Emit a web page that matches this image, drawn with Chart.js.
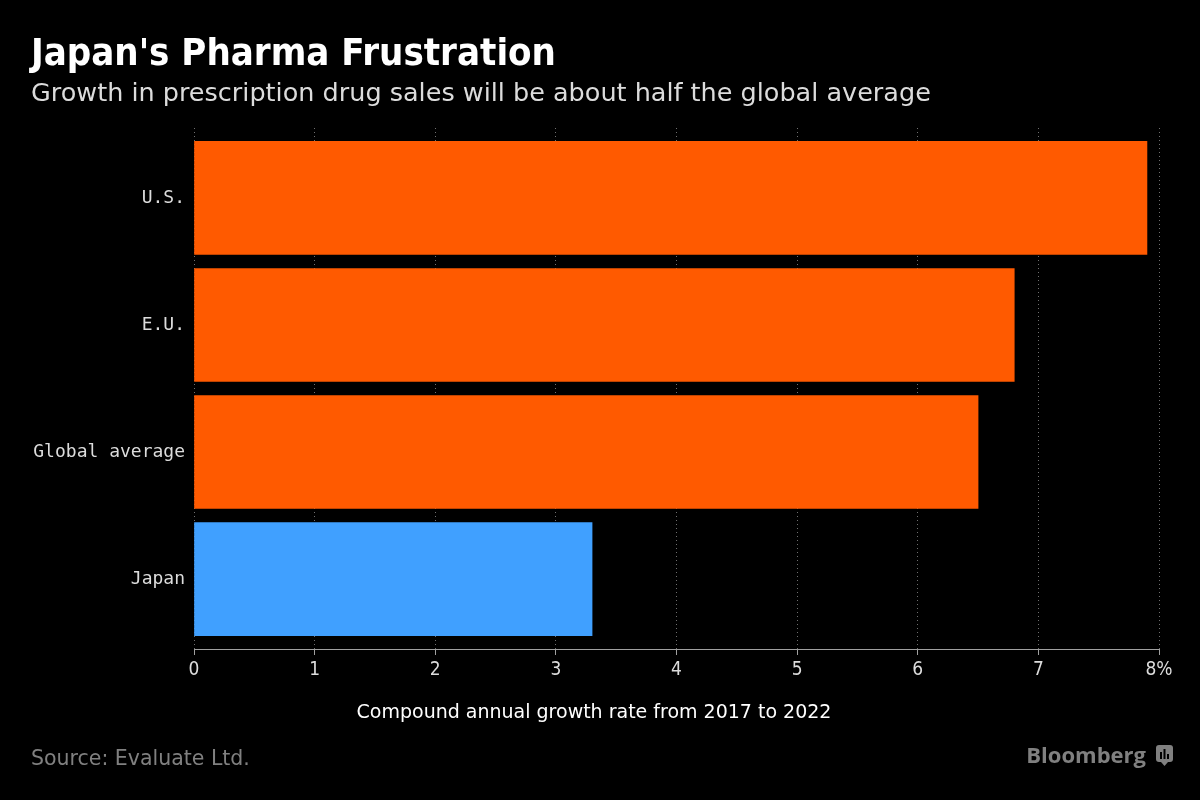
<!DOCTYPE html>
<html>
<head>
<meta charset="utf-8">
<script src="https://cdn.jsdelivr.net/npm/chart.js@4"></script>
<style>
  html, body { margin: 0; padding: 0; background: #000; }
  #wrap { width: 1200px; height: 800px; }
</style>
</head>
<body>
<div id="wrap"><canvas id="chart" width="1200" height="800"></canvas></div>
<script>
const categories = ['U.S.', 'E.U.', 'Global average', 'Japan'];
const growthRates = [7.9, 6.8, 6.5, 3.3];
const barColors = ['#ff5a00', '#ff5a00', '#ff5a00', '#40a0ff'];
const xTicks = [0, 1, 2, 3, 4, 5, 6, 7, 8];

const titleText = "Japan's Pharma Frustration";
const subtitleText = 'Growth in prescription drug sales will be about half the global average';
const axisTitleText = 'Compound annual growth rate from 2017 to 2022';
const sourceText = 'Source: Evaluate Ltd.';

const COND = '"DejaVu Sans Condensed", "DejaVu Sans", sans-serif';
const SANS = '"DejaVu Sans", sans-serif';
const MONO = '"DejaVu Sans Mono", monospace';

const decorations = {
  id: 'decorations',
  beforeDraw(chart) {
    const ctx = chart.ctx;
    ctx.save();
    ctx.fillStyle = '#000';
    ctx.fillRect(0, 0, chart.width, chart.height);
    ctx.restore();
  },
  afterDraw(chart) {
    const ctx = chart.ctx;
    ctx.save();
    ctx.textBaseline = 'alphabetic';
    ctx.textAlign = 'left';

    ctx.fillStyle = '#ffffff';
    ctx.font = 'bold 38px ' + COND;
    ctx.fillText(titleText, 31, 65);

    ctx.fillStyle = '#dcdcdc';
    ctx.font = '25.5px ' + SANS;
    ctx.fillText(subtitleText, 31, 101);

    ctx.textAlign = 'center';
    ctx.fillStyle = '#ffffff';
    ctx.font = '19px ' + SANS;
    ctx.fillText(axisTitleText, 594, 718);

    ctx.textAlign = 'left';
    ctx.fillStyle = '#808080';
    ctx.font = '20.5px ' + SANS;
    ctx.fillText(sourceText, 31, 765);

    // Bloomberg logo
    ctx.textAlign = 'right';
    ctx.font = 'bold 22px "Open Sans", sans-serif';
    ctx.fillText('Bloomberg', 1146, 763);
    ctx.beginPath();
    ctx.roundRect(1156, 745, 17, 17, 3);
    ctx.fill();
    ctx.beginPath();
    ctx.moveTo(1161, 762); ctx.lineTo(1164.5, 766); ctx.lineTo(1168, 762);
    ctx.fill();
    ctx.fillStyle = '#000';
    ctx.fillRect(1160, 752, 2, 7);
    ctx.fillRect(1163.5, 749, 2, 10);
    ctx.fillRect(1167, 754, 2, 5);
    ctx.restore();
  }
};

new Chart(document.getElementById('chart'), {
  type: 'bar',
  data: {
    datasets: [{
      data: growthRates.map((v, i) => ({ x: v, y: i })),
      backgroundColor: barColors,
      borderWidth: 0,
      barThickness: 113
    }]
  },
  options: {
    indexAxis: 'y',
    responsive: false,
    animation: false,
    layout: { padding: { top: 128, right: 41, left: 0, bottom: 0 } },
    plugins: {
      legend: { display: false },
      tooltip: { enabled: false }
    },
    scales: {
      y: {
        type: 'linear',
        offset: false,
        min: -0.55,
        max: 3.55,
        reverse: true,
        afterBuildTicks: scale => { scale.ticks = categories.map((c, i) => ({ value: i })); },
        afterFit: scale => { scale.width = 194; },
        ticks: {
          callback: v => categories[v],
          color: '#dcdcdc',
          font: { family: MONO, size: 18 },
          padding: 9
        },
        grid: { display: false, drawTicks: false, offset: false },
        border: { display: false }
      },
      x: {
        type: 'linear',
        min: 0,
        max: 8,
        afterBuildTicks: scale => { scale.ticks = xTicks.map(v => ({ value: v })); },
        afterFit: scale => { scale.height = 151; },
        ticks: {
          callback: v => (v === 8 ? '8%' : String(v)),
          color: '#dcdcdc',
          font: { family: COND, size: 19 },
          padding: 4,
          maxRotation: 0
        },
        grid: {
          color: '#707070',
          lineWidth: 1,
          tickLength: 6,
          tickColor: '#a0a0a0'
        },
        border: { display: true, color: '#a0a0a0', width: 1, dash: [1, 3] }
      }
    }
  },
  plugins: [decorations]
});
</script>
</body>
</html>
